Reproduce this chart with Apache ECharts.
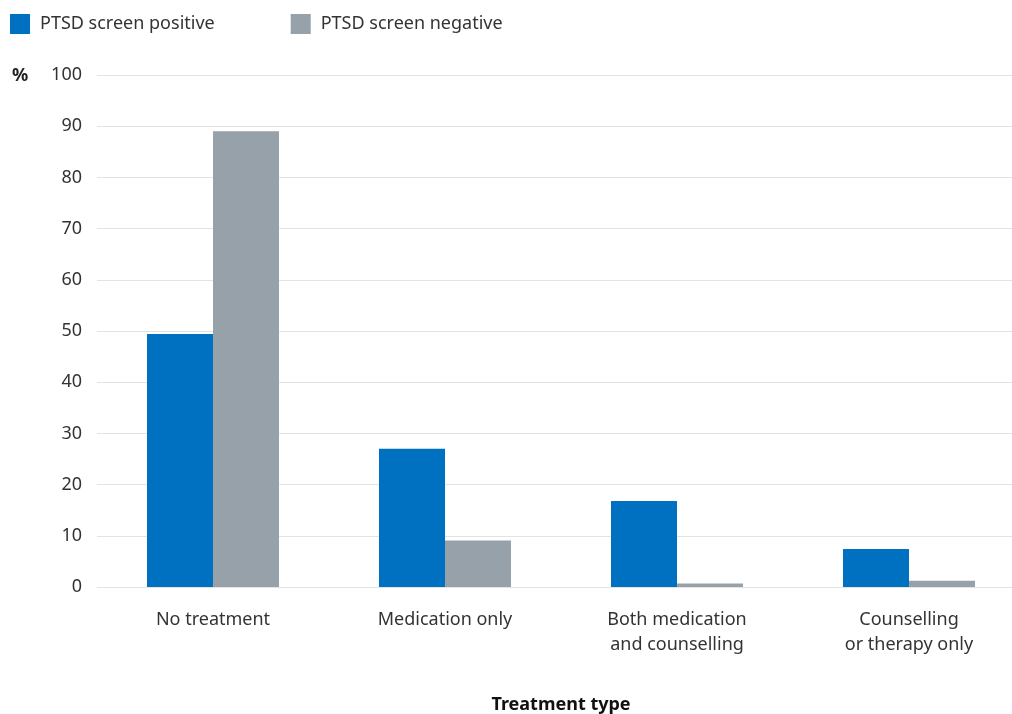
<!DOCTYPE html>
<html lang="en">
<head>
<meta charset="UTF-8" />
<title>PTSD screen by treatment type</title>
<script src="https://cdn.jsdelivr.net/npm/echarts@6/dist/echarts.min.js"></script>
<style>
  html, body { margin: 0; padding: 0; background: #fff; }
  #main { width: 1012px; height: 714px; }
</style>
</head>
<body>
<div id="main"></div>
<script>
// data
var categories = ['No treatment', 'Medication only', 'Both medication\nand counselling', 'Counselling\nor therapy only'];
var positive = [49.4, 27.0, 16.8, 7.4];
var negative = [89.0, 9.1, 0.7, 1.2];
var seriesNames = ['PTSD screen positive', 'PTSD screen negative'];

var font = 'Noto Sans';
var chart = echarts.init(document.getElementById('main'));

chart.setOption({
  animation: false,
  textStyle: { fontFamily: font },
  color: ['#0070C0', '#96A1AA'],
  legend: {
    left: 10,
    top: 14,
    padding: 0,
    itemWidth: 20,
    itemHeight: 20,
    itemGap: 76,
    icon: 'rect',
    textStyle: { fontSize: 18, color: '#333', fontFamily: font, padding: [0, 0, 0, 5] },
    data: seriesNames
  },
  grid: { left: 97, top: 75, width: 928, height: 512, containLabel: false, outerBoundsMode: 'none' },
  graphic: [{
    type: 'text',
    left: 12,
    top: 67,
    style: { text: '%', font: 'bold 18px "Noto Sans"', fill: '#222' }
  }],
  xAxis: {
    type: 'category',
    data: categories,
    name: 'Treatment type',
    nameLocation: 'middle',
    nameGap: 109,
    nameTextStyle: { fontSize: 18, fontWeight: 'bold', color: '#111', fontFamily: font },
    axisLine: { show: false },
    axisTick: { show: false },
    axisLabel: { fontSize: 18, color: '#333', margin: 20, lineHeight: 25, fontFamily: font }
  },
  yAxis: {
    type: 'value',
    min: 0,
    max: 100,
    interval: 10,
    axisLine: { show: false },
    axisTick: { show: false },
    axisLabel: { fontSize: 18, color: '#333', margin: 15, fontFamily: font },
    splitLine: { lineStyle: { color: '#e3e3e3', width: 1 } }
  },
  series: [
    { name: seriesNames[0], type: 'bar', data: positive, barWidth: 66, barGap: '0%' },
    { name: seriesNames[1], type: 'bar', data: negative, barWidth: 66, barGap: '0%' }
  ]
});
</script>
</body>
</html>
